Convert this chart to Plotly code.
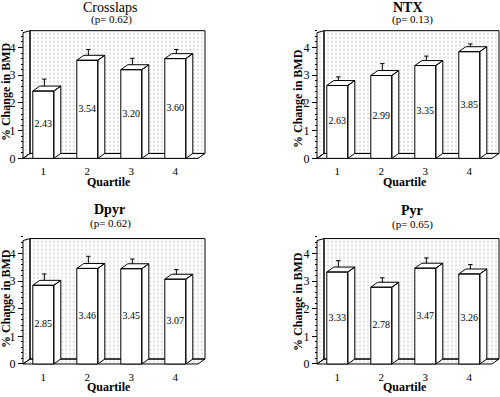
import plotly.graph_objects as go

# ---------------- data ----------------
quartiles = [1, 2, 3, 4]
tick_labels = ["1", "2", "3", "4"]
y_ticks = [0, 1, 2, 3, 4]
marker_names = ["Crosslaps", "NTX", "Dpyr", "Pyr"]
p_labels = ["(p= 0.62)", "(p= 0.13)", "(p= 0.62)", "(p= 0.65)"]
crosslaps = [2.43, 3.54, 3.20, 3.60]
crosslaps_err = [0.43, 0.39, 0.41, 0.33]
ntx = [2.63, 2.99, 3.35, 3.85]
ntx_err = [0.31, 0.43, 0.34, 0.28]
dpyr = [2.85, 3.46, 3.45, 3.07]
dpyr_err = [0.41, 0.44, 0.35, 0.35]
pyr = [3.33, 2.78, 3.47, 3.26]
pyr_err = [0.41, 0.34, 0.37, 0.34]
x_title = "Quartile"
y_title = "% Change in BMD"

# ---------------- layout constants ----------------
W, H = 500, 397
FONT = "Liberation Serif"
XPPU = 44.0  # pixels per quartile
series = [(crosslaps, crosslaps_err), (ntx, ntx_err), (dpyr, dpyr_err), (pyr, pyr_err)]
panel_geo = [
    dict(axis_px=23, one_px=43.3, zero_px=160.0, ppu=28.0, top_px=31, bold=False,
         title_xy=(110, 8), p_xy=(111, 20), q_xy=(109, 184), yt_xy=(6, 93)),
    dict(axis_px=317, one_px=337.3, zero_px=160.0, ppu=28.0, top_px=31, bold=True,
         title_xy=(408, 8), p_xy=(412, 20), q_xy=(405, 184), yt_xy=(298, 100)),
    dict(axis_px=23, one_px=43.3, zero_px=367.7, ppu=27.9, top_px=241, bold=True,
         title_xy=(109, 212), p_xy=(110, 226), q_xy=(109, 391), yt_xy=(6, 302)),
    dict(axis_px=317, one_px=337.3, zero_px=367.7, ppu=27.9, top_px=241, bold=True,
         title_xy=(412, 213), p_xy=(412, 227), q_xy=(405, 391), yt_xy=(298, 305)),
]

fig = go.Figure()
annotations = []
layout_axes = {}

BAR_W = 21 / XPPU
DX = 7 / XPPU
PAD = 3

for i, (geo, (vals, errs)) in enumerate(zip(panel_geo, series), start=1):
    xa = "x" if i == 1 else f"x{i}"
    ya = "y" if i == 1 else f"y{i}"
    ppu = geo["ppu"]
    x_of = lambda px, g=geo: 1 + (px - g["one_px"]) / XPPU
    y_of = lambda py, g=geo, p=ppu: (g["zero_px"] - py) / p

    left_px = geo["axis_px"] - PAD
    right_px = min(geo["axis_px"] + 182 + PAD, W)
    bot_px = geo["zero_px"] + PAD
    top_px = geo["top_px"] - PAD

    x0 = x_of(geo["axis_px"])
    x1 = x_of(min(geo["axis_px"] + 182, W - 1))
    ymax = y_of(geo["top_px"])
    dy = 5 / ppu

    # back wall, left wall, floor (stippled)
    wx = [x0 + DX, x1, x1, x0 + DX, x0 + DX, None,
          x0, x0 + DX, x0 + DX, x0, x0, None,
          x0, x1 - DX, x1, x0 + DX, x0]
    wy = [dy, dy, ymax, ymax, dy, None,
          0, dy, ymax, ymax - 2 / ppu, 0, None,
          0, 0, dy, dy, 0]
    fig.add_trace(go.Scatter(
        x=wx, y=wy, xaxis=xa, yaxis=ya, mode="lines", fill="toself",
        fillcolor="white",
        fillpattern=dict(shape=".", fgcolor="#606060", bgcolor="white",
                         size=4, solidity=0.11),
        line=dict(color="black", width=1), hoverinfo="skip", showlegend=False))

    # whiskers (drawn first so the bar tops cover their bases)
    ex, ey = [], []
    cap = 2.2 / XPPU
    for q, v, e in zip(quartiles, vals, errs):
        xc = q + 0.15 * DX
        ex += [xc, xc, None, xc - cap, xc + cap, None]
        ey += [v + 0.5 * dy, v + e, None, v + e, v + e, None]
    fig.add_trace(go.Scatter(
        x=ex, y=ey, xaxis=xa, yaxis=ya, mode="lines",
        line=dict(color="black", width=1), hoverinfo="skip", showlegend=False))

    # 3D bars
    bx, by = [], []
    for q, v in zip(quartiles, vals):
        l, r = q - BAR_W / 2, q + BAR_W / 2
        bx += [l, r, r, l, l, None]
        by += [0, 0, v, v, 0, None]
        bx += [l, r, r + DX, l + DX, l, None]
        by += [v, v, v + dy, v + dy, v, None]
        bx += [r, r + DX, r + DX, r, r, None]
        by += [0, dy, v + dy, v, 0, None]
    fig.add_trace(go.Scatter(
        x=bx, y=by, xaxis=xa, yaxis=ya, mode="lines", fill="toself",
        fillcolor="white", line=dict(color="black", width=1),
        hoverinfo="skip", showlegend=False))

    # value labels
    fig.add_trace(go.Scatter(
        x=quartiles, y=[v / 2 for v in vals], xaxis=xa, yaxis=ya, mode="text",
        text=[f"{v:.2f}" for v in vals],
        textfont=dict(family=FONT, size=10, color="black"),
        hoverinfo="skip", showlegend=False))

    xkey = "xaxis" if i == 1 else f"xaxis{i}"
    ykey = "yaxis" if i == 1 else f"yaxis{i}"
    layout_axes[xkey] = dict(
        domain=[left_px / W, right_px / W], range=[x_of(left_px), x_of(right_px)],
        anchor=ya, tickvals=quartiles, ticktext=tick_labels, ticks="",
        showline=False, showgrid=False, zeroline=False, fixedrange=True,
        tickangle=0, ticklabelstandoff=2,
        tickfont=dict(family=FONT, size=11, color="black"))
    layout_axes[ykey] = dict(
        domain=[1 - bot_px / H, 1 - top_px / H], range=[y_of(bot_px), y_of(top_px)],
        anchor="free", position=geo["axis_px"] / W,
        tickvals=y_ticks, ticks="outside", ticklen=5, tickcolor="black", tickwidth=1,
        minor=dict(dtick=0.2, ticks="outside", ticklen=2, tickcolor="black"),
        showline=False, showgrid=False, zeroline=False, fixedrange=True,
        tickfont=dict(family=FONT, size=12, color="black"))

    name = marker_names[i - 1]
    annotations += [
        dict(x=geo["title_xy"][0] / W, y=1 - geo["title_xy"][1] / H, xref="paper", yref="paper",
             text=(f"<b>{name}</b>" if geo["bold"] else name), showarrow=False,
             xanchor="center", yanchor="middle", font=dict(family=FONT, size=14, color="black")),
        dict(x=geo["p_xy"][0] / W, y=1 - geo["p_xy"][1] / H, xref="paper", yref="paper",
             text=p_labels[i - 1], showarrow=False, xanchor="center", yanchor="middle",
             font=dict(family=FONT, size=11, color="black")),
        dict(x=geo["q_xy"][0] / W, y=1 - geo["q_xy"][1] / H, xref="paper", yref="paper",
             text=f"<b>{x_title}</b>", showarrow=False, xanchor="center", yanchor="middle",
             font=dict(family=FONT, size=12, color="black")),
        dict(x=geo["yt_xy"][0] / W, y=1 - geo["yt_xy"][1] / H, xref="paper", yref="paper",
             text=f"<b>{y_title}</b>", showarrow=False, textangle=-90,
             xanchor="center", yanchor="middle", font=dict(family=FONT, size=12, color="black")),
    ]

fig.update_layout(
    width=W, height=H, margin=dict(l=0, r=0, t=0, b=0),
    paper_bgcolor="white", plot_bgcolor="rgba(0,0,0,0)",
    showlegend=False, annotations=annotations, **layout_axes)

fig.write_html("out.html", config={"displayModeBar": False},
               post_script="document.body.style.margin='0';document.body.style.overflow='hidden';")
